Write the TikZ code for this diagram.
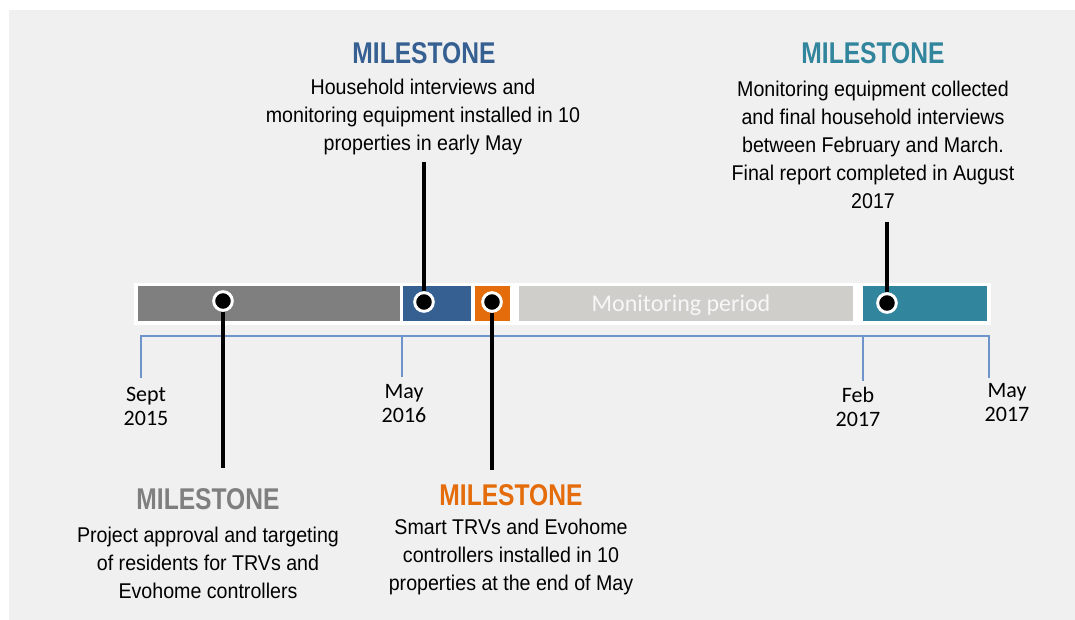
\documentclass[tikz,border=0pt]{standalone}
\usepackage{fontspec}
\setmainfont{Liberation Sans}[FakeStretch=0.82]
\newfontfamily\bodyfont{Liberation Sans}[FakeStretch=0.92]
\newfontfamily\datefont{Carlito}

\definecolor{panel}{HTML}{F0F0F0}
\definecolor{phasegray}{HTML}{7F7F7F}
\definecolor{phaseblue}{HTML}{376092}
\definecolor{phaseorange}{HTML}{E46C0A}
\definecolor{phaselight}{HTML}{D0CECA}
\definecolor{phaseteal}{HTML}{31859C}
\definecolor{axisblue}{HTML}{6F94CC}

\begin{document}
\begin{tikzpicture}[x=0.75pt,y=-0.75pt,
    dot/.style={circle,fill=black,draw=white,line width=2.2pt,minimum size=14pt,inner sep=0pt},
    stem/.style={line width=3pt},
    axis/.style={axisblue,line width=0.8pt},
    title/.style={font=\fontsize{22.5}{27}\selectfont\bfseries},
    body/.style={align=center,inner sep=0pt,font=\bodyfont\fontsize{16}{21}\selectfont},
    datelbl/.style={align=center,inner sep=0pt,font=\datefont\fontsize{16.5}{18}\selectfont}]
    \useasboundingbox (0,0) rectangle (1075,620);
    \fill[white] (0,0) rectangle (1075,620);
    \fill[panel] (9,10) rectangle (1075,620);

    %% Phases
    \fill[white] (134,283) rectangle (991,325);
    \fill[phasegray] (138,286) rectangle (400,321);
    \fill[phaseblue] (403,286) rectangle (471,321);
    \fill[phaseorange] (475,286) rectangle (510,321);
    \fill[phaselight] (519,286) rectangle (853,321);
    \fill[phaseteal] (863,286) rectangle (987,321);
    \node[font=\datefont\fontsize{18}{21}\selectfont,text=white!97!black] (mon) at (681,305) {Monitoring period};

    %% Axis and dates
    \draw[axis] (141,378) -- (141,336) -- (989,336) -- (989,378);
    \draw[axis] (402,336) -- (402,377);
    \draw[axis] (863,336) -- (863,381);
    \node[datelbl] (t1) at (146,406) {Sept\\2015};
    \node[datelbl] (t2) at (404,404) {May\\2016};
    \node[datelbl] (t3) at (858,407) {Feb\\2017};
    \node[datelbl] (t4) at (1007,403) {May\\2017};

    %% Milestones
    \node[dot] (d1) at (223,301) {};
    \node[dot] (d2) at (424,302) {};
    \node[dot] (d3) at (492,302) {};
    \node[dot] (d4) at (887,303) {};
    \coordinate (e1) at (223,468);
    \coordinate (e2) at (424,162);
    \coordinate (e3) at (492,470);
    \coordinate (e4) at (887,222);
    \draw[stem] (d1) -- (e1);
    \draw[stem] (d2) -- (e2);
    \draw[stem] (d3) -- (e3);
    \draw[stem] (d4) -- (e4);

    \node[title,text=phaseblue] (m2) at (424,53) {MILESTONE};
    \node[body] (b2) at (423,117) {Household interviews and\\monitoring equipment installed in 10\\properties in early May};
    \node[title,text=phaseteal] (m4) at (873,53) {MILESTONE};
    \node[body] (b4) at (873,145) {Monitoring equipment collected\\and final household interviews\\between February and March.\\Final report completed in August\\2017};
    \node[title,text=phasegray] (m1) at (208,499) {MILESTONE};
    \node[body] (b1) at (208,563) {Project approval and targeting\\of residents for TRVs and\\Evohome controllers};
    \node[title,text=phaseorange] (m3) at (511,495) {MILESTONE};
    \node[body] (b3) at (511,557) {Smart TRVs and Evohome\\controllers installed in 10\\properties at the end of May};
\end{tikzpicture}
\end{document}
